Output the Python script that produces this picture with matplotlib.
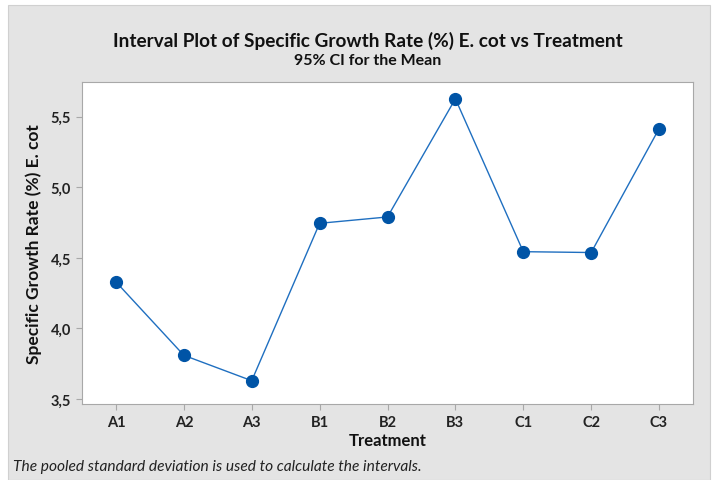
import matplotlib
matplotlib.use("Agg")
import matplotlib.pyplot as plt
from matplotlib.patches import Rectangle
from matplotlib.ticker import FuncFormatter

treatments = ["A1", "A2", "A3", "B1", "B2", "B3", "C1", "C2", "C3"]
growth_rate = [4.33, 3.81, 3.63, 4.745, 4.79, 5.627, 4.544, 4.538, 5.415]
y_ticks = [3.5, 4.0, 4.5, 5.0, 5.5]

plt.rcParams['font.family'] = ['Lato', 'DejaVu Sans']

fig = plt.figure(figsize=(7.16, 4.81), dpi=100, facecolor="white")
# grey panel behind the chart
fig.patches.append(Rectangle((8 / 716, 0), 702 / 716, 475 / 481, transform=fig.transFigure,
                             facecolor="#e4e4e4", edgecolor="#d0d0d0", lw=0.8, zorder=-1))

ax = fig.add_axes([82 / 716, 76 / 481, 611 / 716, 322 / 481])
ax.set_facecolor("white")
x = list(range(len(treatments)))
ax.plot(x, growth_rate, color="#1f6fc0", lw=1.0, marker="o", markersize=8.5,
        markerfacecolor="#0054a6", markeredgecolor="#0054a6", zorder=3)

ax.set_xlim(-0.5, 8.5)
ax.set_ylim(3.465, 5.746)
ax.set_xticks(x)
ax.set_xticklabels(treatments)
ax.set_yticks(y_ticks)
ax.yaxis.set_major_formatter(FuncFormatter(lambda v, p: f"{v:.1f}".replace(".", ",")))
for s in ax.spines.values():
    s.set_color("#a8a8a8")
ax.tick_params(colors="#a8a8a8", labelcolor="#222222", length=4, width=0.8, labelsize=10.5, pad=4)
for lbl in ax.get_xticklabels() + ax.get_yticklabels():
    lbl.set_fontweight("bold")

ax.set_xlabel("Treatment", fontsize=12, fontweight="bold", color="#111111", labelpad=2)
ax.set_ylabel("Specific Growth Rate (%) E. cot", fontsize=12.5, fontweight="bold", color="#111111", labelpad=6)

fig.text(368 / 716, 1 - 41 / 481, "Interval Plot of Specific Growth Rate (%) E. cot vs Treatment",
         ha="center", va="center", fontsize=13.7, fontweight="bold", color="#111111")
fig.text(368 / 716, 1 - 61 / 481, "95% CI for the Mean",
         ha="center", va="center", fontsize=11.5, fontweight="bold", color="#111111")
fig.text(13 / 716, 1 - 467 / 481, "The pooled standard deviation is used to calculate the intervals.",
         ha="left", va="center", fontsize=11.2, style="italic", color="#222222")

fig.savefig("out.png", dpi=100, facecolor="white")
